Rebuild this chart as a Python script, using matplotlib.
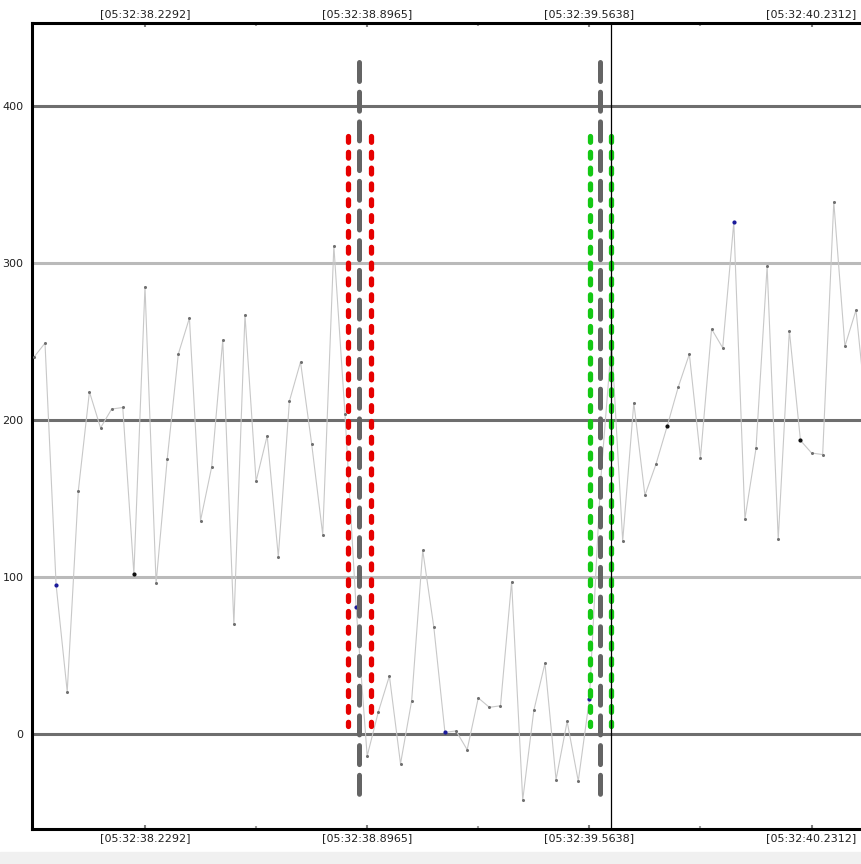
import matplotlib
matplotlib.use("Agg")
import matplotlib.pyplot as plt
import numpy as np

# samples, one every ~33 ms; sample 9 falls on 05:32:38.2292
values = [240, 249, 95, 27, 155, 218, 195, 207, 208, 102,
          285, 96, 175, 242, 265, 136, 170, 251, 70, 267,
          161, 190, 113, 212, 237, 185, 127, 311, 204, 81,
          -14, 14, 37, -19, 21, 117, 68, 1, 2, -10,
          23, 17, 18, 97, -42, 15, 45, -29, 8, -30,
          22, 160, 250, 123, 211, 152, 172, 196, 221, 242,
          176, 258, 246, 326, 137, 182, 298, 124, 257, 187,
          179, 178, 339, 247, 270, 200]
first_sample = -1
blue_samples = [1, 28, 36, 49, 62]
black_samples = [8, 56, 68]

tick_samples = [9, 29, 49, 69]
tick_labels = ["[05:32:38.2292]", "[05:32:38.8965]", "[05:32:39.5638]", "[05:32:40.2312]"]
minor_samples = [19, 39, 59]

# event markers (sample units)
start_center = 28.3
start_bounds = [27.3, 29.3]
end_center = 50.0
end_bounds = [49.05, 50.95]
cursor = 50.95

sample = np.arange(first_sample, first_sample + len(values))
vals = np.array(values)

W, H = 861, 864
fig = plt.figure(figsize=(W / 100, H / 100), dpi=100)
fig.patches.append(plt.Rectangle((0, 0), 1, 12 / H, transform=fig.transFigure,
                                 color="#f0f0f0", zorder=0))
ax = fig.add_axes([32 / W, 35 / H, (878 - 32) / W, (829 - 23) / H])

ax.set_xlim(-1.17, 74.98)
ax.set_ylim(-60.5, 452.9)

# horizontal grid, alternating dark / light
for y in [400, 200, 0]:
    ax.axhline(y, color="#6e6e6e", lw=2.2, zorder=1)
for y in [300, 100]:
    ax.axhline(y, color="#bababa", lw=2.2, zorder=1)

# signal
ax.plot(sample, vals, color="#c8c8c8", lw=0.8, zorder=2)
ax.plot(sample, vals, ls="none", marker="o", ms=1.2, color="#707070", zorder=3)
blue = np.isin(sample, blue_samples)
black = np.isin(sample, black_samples)
ax.plot(sample[blue], vals[blue], ls="none", marker="o", ms=2.0, color="#1a1a9a", zorder=4)
ax.plot(sample[black], vals[black], ls="none", marker="o", ms=2.0, color="#101010", zorder=4)

# markers
gray_dash = (0, (3.8, 2.14))
dots = (0, (1.1, 1.9))
for xc in [start_center, end_center]:
    ax.plot([xc, xc], [428, -42], color="#646464", lw=3.6, ls=gray_dash,
            dash_capstyle="round", zorder=5)
for xb in start_bounds:
    ax.plot([xb, xb], [381, 5], color="#e60000", lw=3.8, ls=dots,
            dash_capstyle="round", zorder=5)
for xb in end_bounds:
    ax.plot([xb, xb], [381, 5], color="#14c814", lw=3.8, ls=dots,
            dash_capstyle="round", zorder=5)
ax.axvline(cursor, color="black", lw=0.9, zorder=6)

# axes styling
for side in ["left", "top", "bottom"]:
    ax.spines[side].set_linewidth(2.2)
    ax.spines[side].set_color("black")
ax.spines["right"].set_visible(False)

ax.set_xticks(tick_samples)
ax.set_xticklabels(tick_labels)
ax.set_xticks(minor_samples, minor=True)
ax.tick_params(axis="x", which="both", top=True, labeltop=True, bottom=True,
               labelbottom=True, direction="in", labelsize=8, labelcolor="#202020")
ax.tick_params(axis="x", which="major", length=3, width=1.5, color="#808080", pad=3)
ax.tick_params(axis="x", which="minor", length=2, width=1.5, color="#a0a0a0")

ax.set_yticks([0, 100, 200, 300, 400])
ax.tick_params(axis="y", length=0, pad=6, labelsize=8, labelcolor="#202020")

fig.savefig("out.png", dpi=100)
